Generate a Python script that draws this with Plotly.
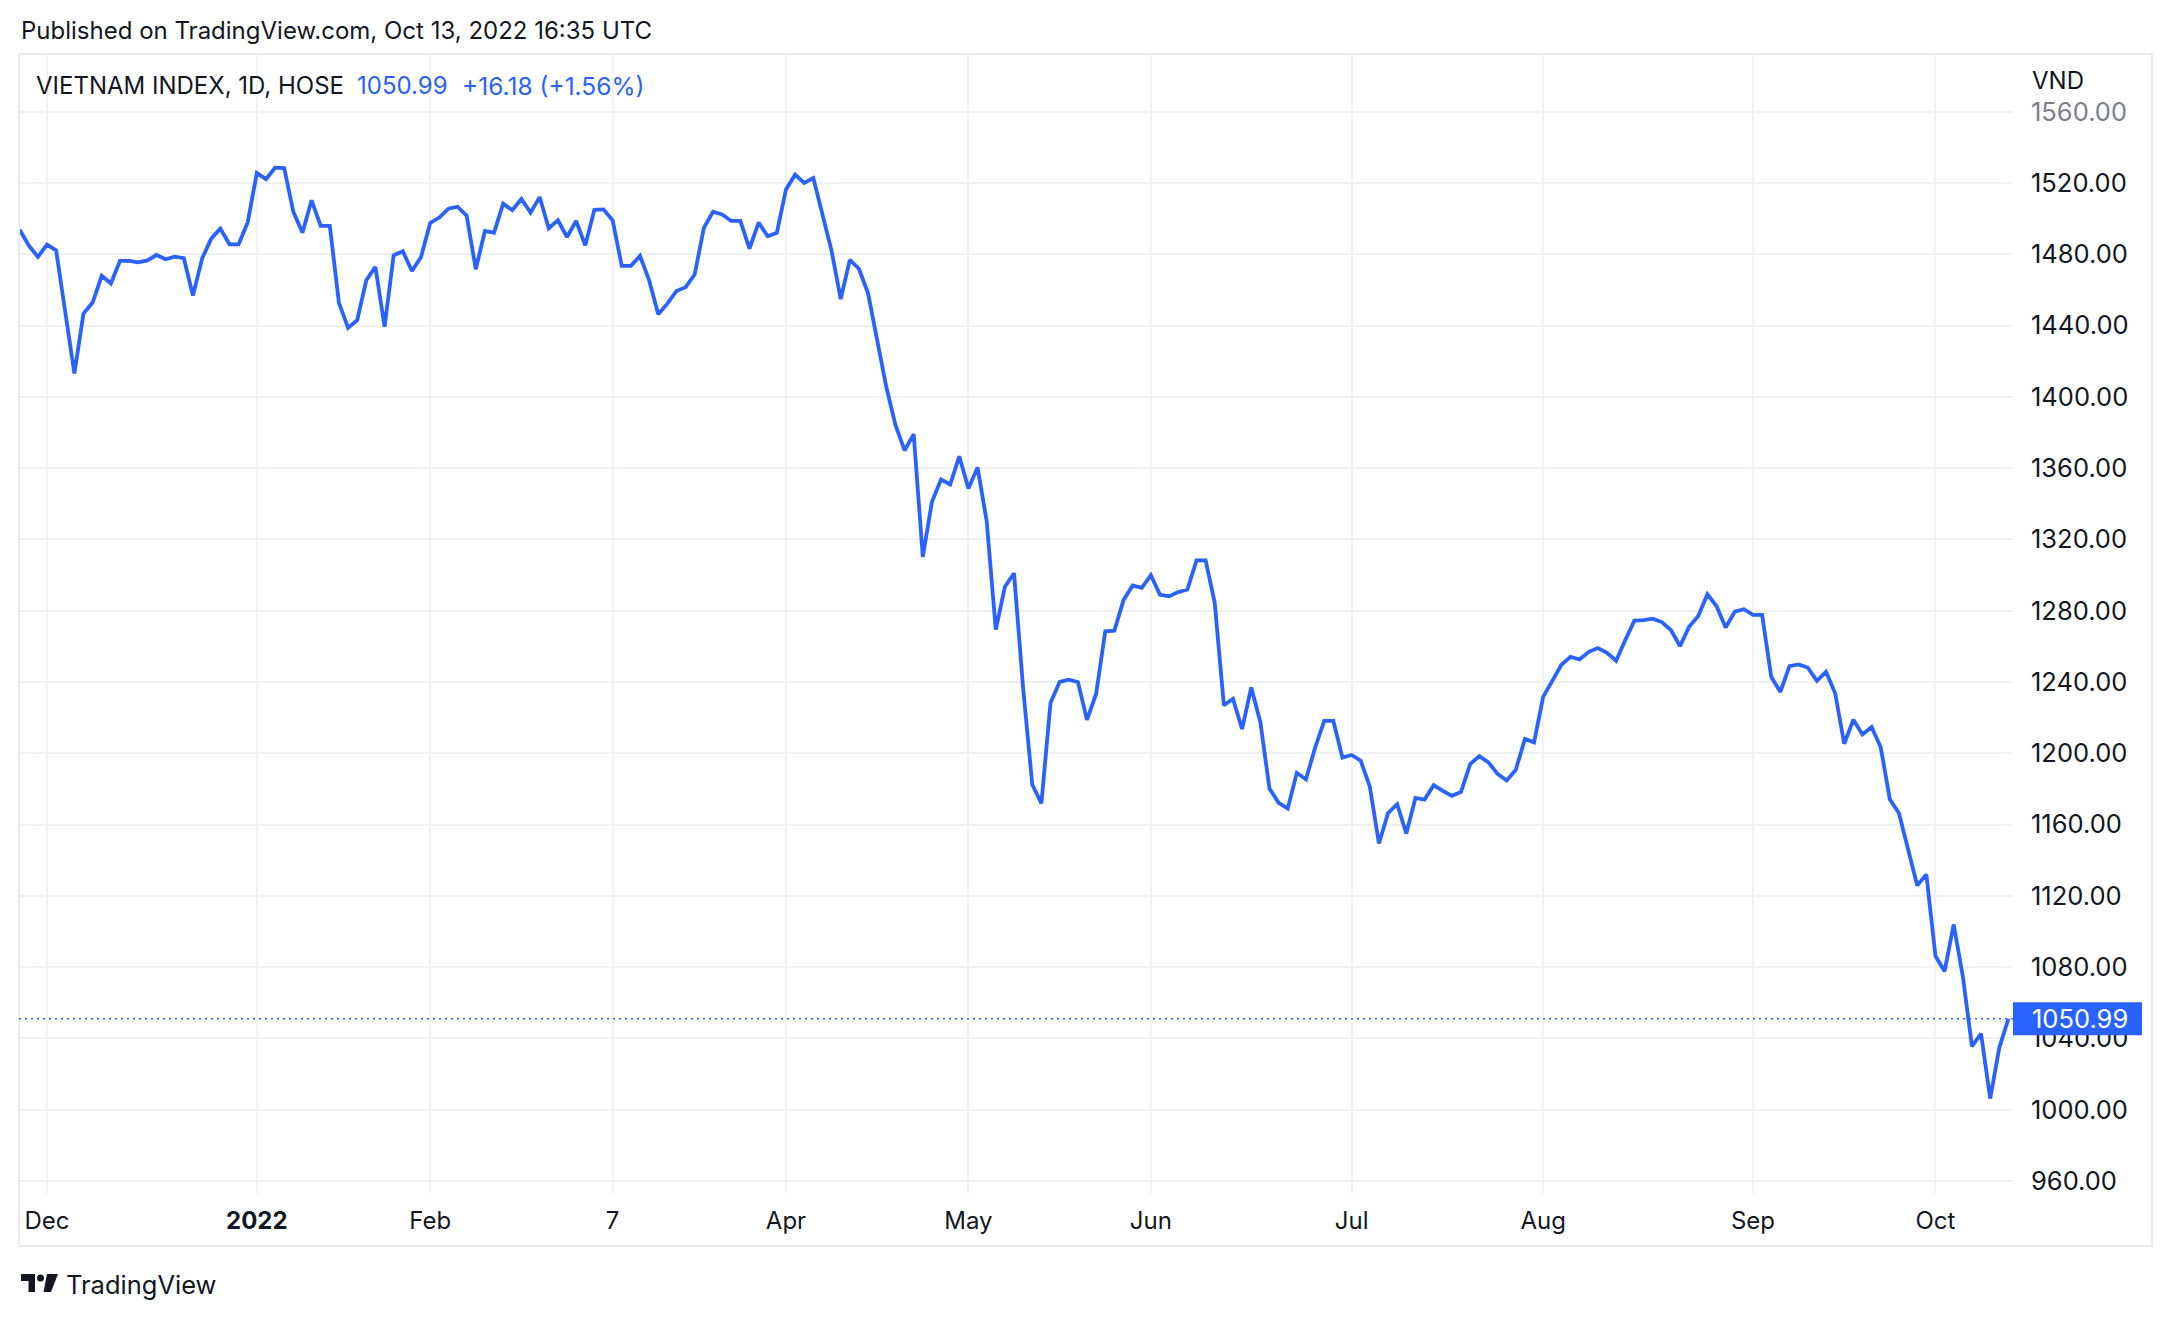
import plotly.graph_objects as go

# ---------------- data (VN-Index daily close) ----------------
close = [
    1493.8, 1485.0, 1478.5, 1485.4, 1482.2, 1447.7, 1413.1, 1446.7, 1452.9, 1467.9,
    1463.6, 1476.3, 1476.3, 1475.5, 1476.6, 1479.6, 1477.2, 1478.7, 1477.8, 1456.8,
    1477.6, 1488.8, 1494.4, 1485.6, 1485.6, 1497.9, 1525.6, 1522.2, 1528.6, 1528.4,
    1503.9, 1492.1, 1510.3, 1495.9, 1495.9, 1452.7, 1438.7, 1443.0, 1465.4, 1472.9,
    1439.3, 1479.4, 1481.7, 1470.6, 1478.5, 1497.6, 1500.6, 1505.6, 1506.7, 1501.7,
    1471.6, 1493.1, 1492.1, 1508.4, 1504.7, 1511.0, 1503.4, 1512.1, 1494.6, 1499.1,
    1489.7, 1498.7, 1485.0, 1505.0, 1505.2, 1499.1, 1473.5, 1473.5, 1479.1, 1465.4,
    1446.4, 1452.3, 1459.4, 1461.5, 1468.8, 1494.8, 1503.9, 1502.4, 1498.7, 1498.7,
    1483.2, 1497.8, 1490.1, 1492.0, 1516.4, 1524.7, 1520.0, 1522.8, 1503.2, 1481.9,
    1454.8, 1476.9, 1471.9, 1458.1, 1431.8, 1405.5, 1384.2, 1369.9, 1379.1, 1310.2,
    1341.1, 1353.6, 1350.8, 1366.6, 1348.6, 1360.4, 1330.3, 1269.4, 1293.4, 1301.0,
    1236.3, 1182.4, 1171.9, 1228.3, 1240.0, 1241.3, 1240.0, 1218.7, 1233.3, 1268.4,
    1268.8, 1285.9, 1294.1, 1292.8, 1299.9, 1288.9, 1288.1, 1290.4, 1291.9, 1308.2,
    1308.2, 1284.4, 1226.9, 1230.5, 1213.6, 1236.9, 1217.4, 1180.2, 1172.2, 1169.0,
    1189.0, 1185.3, 1203.1, 1218.1, 1218.1, 1197.5, 1199.0, 1195.8, 1181.2, 1149.3,
    1166.5, 1171.4, 1154.9, 1174.9, 1174.0, 1182.1, 1178.9, 1176.1, 1178.3, 1193.9,
    1198.4, 1194.9, 1188.4, 1184.7, 1190.7, 1208.0, 1206.1, 1231.6, 1240.6, 1249.6,
    1254.1, 1252.6, 1256.9, 1259.0, 1256.4, 1251.9, 1263.5, 1274.4, 1274.7, 1275.5,
    1273.6, 1269.1, 1260.1, 1271.0, 1277.0, 1289.2, 1282.6, 1270.6, 1279.4, 1280.8,
    1277.6, 1277.6, 1242.9, 1234.4, 1248.9, 1249.8, 1248.1, 1240.6, 1245.7, 1233.8,
    1205.3, 1218.8, 1210.5, 1214.7, 1203.3, 1174.2, 1166.3, 1145.8, 1125.8, 1132.0,
    1086.2, 1077.6, 1103.9, 1074.8, 1035.5, 1042.6, 1006.2, 1034.81, 1050.99,
]
session = list(range(len(close)))          # trading-session index (no weekend gaps)

time_tick_session = [3, 26, 45, 65, 84, 104, 124, 146, 167, 190, 210]
time_tick_text = ["Dec", "<b>2022</b>", "Feb", "7", "Apr", "May", "Jun", "Jul", "Aug", "Sep", "Oct"]
price_ticks = [960, 1000, 1040, 1080, 1120, 1160, 1200, 1240, 1280, 1320, 1360, 1400,
               1440, 1480, 1520, 1560]

title_text = "Published on TradingView.com, Oct 13, 2022 16:35 UTC"
symbol_text = "VIETNAM INDEX, 1D, HOSE"
currency = "VND"

# ---------------- styling ----------------
BLUE = "#2962ff"
TXT = "#131722"
GRID = "#f0f1f4"
FRAME = "#e9ebf0"
FONT = "Inter"

W, H = 2172, 1318
L, R, T, B = 19, 2013, 54, 1193
PW, PH = R - L, B - T


def px(x):
    return (x - L) / PW


def py(y):
    return (B - y) / PH


last = close[-1]
chg = close[-1] - close[-2]
pct = chg / close[-2] * 100

price_text = []
for v in price_ticks:
    s = f"{v:.2f}"
    if v == price_ticks[-1]:
        s = f"<span style='color:#7d808a'>{s}</span>"
    price_text.append(s)

fig = go.Figure()
fig.add_trace(go.Scatter(
    x=session, y=close, mode="lines",
    line=dict(color=BLUE, width=3.8),
    hoverinfo="skip",
))

fig.update_layout(
    width=W, height=H,
    margin=dict(l=L, r=W - R, t=T, b=H - B),
    paper_bgcolor="white", plot_bgcolor="white",
    showlegend=False,
    font=dict(family=FONT, color=TXT, size=24),
    xaxis=dict(
        range=[-0.07, 218.5],
        tickmode="array", tickvals=time_tick_session, ticktext=time_tick_text,
        showgrid=True, gridcolor=GRID, gridwidth=1.5,
        zeroline=False, showline=False, ticks="",
        tickfont=dict(size=24, color=TXT, family=FONT),
        ticklabelstandoff=11,
    ),
    yaxis=dict(
        side="right",
        range=[953.2, 1592.4],
        tickmode="array", tickvals=price_ticks, ticktext=price_text,
        showgrid=True, gridcolor=GRID, gridwidth=1.5,
        zeroline=False, showline=False, ticks="",
        tickfont=dict(size=25.5, color=TXT, family=FONT),
        ticklabelstandoff=17,
    ),
)

shapes = [
    # outer frame
    dict(type="rect", xref="paper", yref="paper",
         x0=px(L), x1=px(2152), y0=py(1246), y1=py(T),
         line=dict(color=FRAME, width=2), fillcolor="rgba(0,0,0,0)", layer="above"),
    # last price dotted line
    dict(type="line", xref="paper", yref="y", x0=0, x1=1, y0=last, y1=last,
         line=dict(color=BLUE, width=1.5, dash="2px,4px"), layer="above"),
    # last price label box
    dict(type="rect", xref="paper", yref="y",
         x0=px(2013), x1=px(2142), y0=last - 9.3, y1=last + 9.3,
         fillcolor=BLUE, line=dict(width=0), layer="above"),
    # TradingView logo mark
    dict(type="rect", xref="paper", yref="paper",
         x0=px(21), x1=px(35), y0=py(1281), y1=py(1274),
         fillcolor=TXT, line=dict(width=0), layer="above"),
    dict(type="rect", xref="paper", yref="paper",
         x0=px(28.5), x1=px(35), y0=py(1292), y1=py(1274),
         fillcolor=TXT, line=dict(width=0), layer="above"),
    dict(type="circle", xref="paper", yref="paper",
         x0=px(37), x1=px(44), y0=py(1281.5), y1=py(1274.5),
         fillcolor=TXT, line=dict(width=0), layer="above"),
    dict(type="path", xref="paper", yref="paper",
         path=(f"M {px(47)},{py(1274)} L {px(58)},{py(1274)} "
               f"L {px(51)},{py(1292)} L {px(43.5)},{py(1292)} Z"),
         fillcolor=TXT, line=dict(width=0), layer="above"),
]
fig.update_layout(shapes=shapes)

ann = [
    dict(text=title_text, x=px(20), y=py(31), font=dict(size=24, color=TXT)),
    dict(text=symbol_text, x=px(35), y=py(86), font=dict(size=24, color=TXT)),
    dict(text=f"{last:.2f}", x=px(356), y=py(86), font=dict(size=24, color=BLUE)),
    dict(text=f"{chg:+.2f} ({pct:+.2f}%)", x=px(461), y=py(86), font=dict(size=24.5, color=BLUE)),
    dict(text=currency, x=px(2031), y=py(80), font=dict(size=24, color=TXT)),
    dict(text=f"{last:.2f}", x=px(2031), y=last, yref="y", font=dict(size=25.5, color="white")),
    dict(text="TradingView", x=px(65), y=py(1284), font=dict(size=25.5, color=TXT)),
]
for a in ann:
    a.setdefault("xref", "paper")
    a.setdefault("yref", "paper")
    a.update(xanchor="left", yanchor="middle", showarrow=False, borderpad=0)
    a["font"]["family"] = FONT
fig.update_layout(annotations=ann)

fig.write_html("out.html", config={"displayModeBar": False})
